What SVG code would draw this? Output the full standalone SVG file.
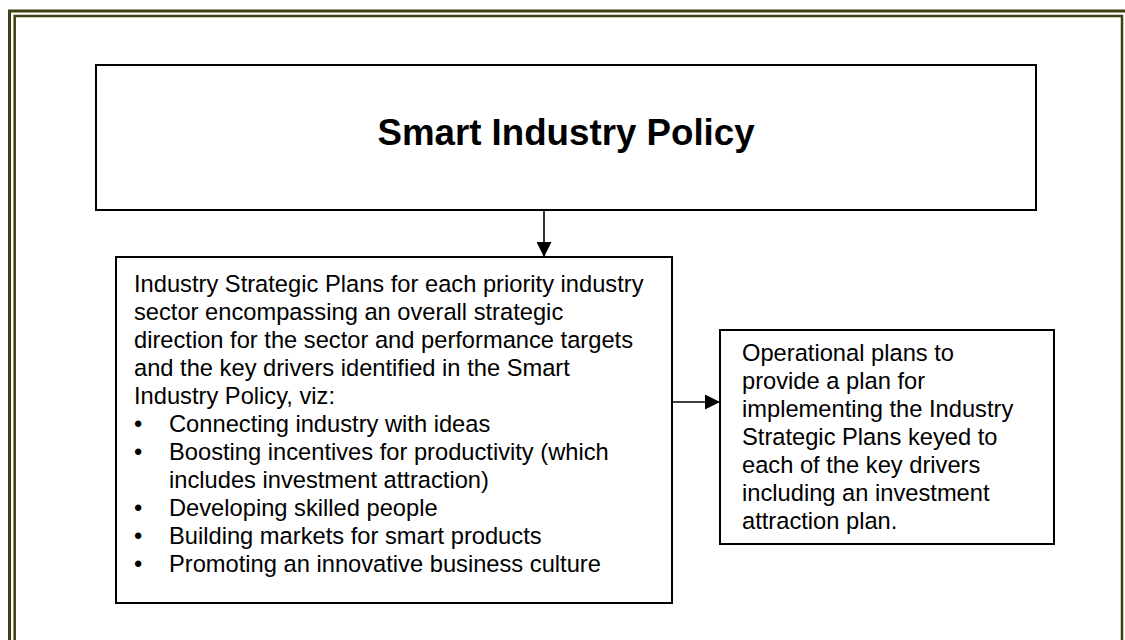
<svg xmlns="http://www.w3.org/2000/svg" width="1125" height="640" viewBox="0 0 1125 640">
  <defs>
    <style>
      .frame { fill: none; stroke: #404012; }
      .box { fill: #ffffff; stroke: #000000; stroke-width: 2; }
      .link { fill: none; stroke: #000000; stroke-width: 1.6; }
      .title { font-family: "Liberation Sans", Arial, sans-serif; font-weight: bold; font-size: 36.7px; fill: #000000; }
      .body { font-family: "Liberation Sans", Arial, sans-serif; font-size: 23.7px; fill: #000000; }
    </style>
    <marker id="arrowhead" viewBox="0 0 15 15" refX="15" refY="7.5" markerWidth="15" markerHeight="15" markerUnits="userSpaceOnUse" orient="auto">
      <path d="M0,0 L15,7.5 L0,15 Z" fill="#000000"/>
    </marker>
  </defs>

  <rect width="1125" height="640" fill="#ffffff"/>

  <!-- double page frame -->
  <g id="frame">
    <rect class="frame" x="9.5" y="11" width="1117.5" height="660" stroke-width="3"/>
    <rect class="frame" x="14.7" y="16" width="1107.3" height="650" stroke-width="2.5"/>
  </g>

  <!-- connectors -->
  <g id="connectors">
    <line class="link" x1="544" y1="210" x2="544" y2="257" marker-end="url(#arrowhead)"/>
    <line class="link" x1="672" y1="402" x2="720" y2="402" marker-end="url(#arrowhead)"/>
  </g>

  <g id="policy">
    <rect class="box" x="96" y="65" width="940" height="145"/>
    <text class="title" x="566" y="145" text-anchor="middle">Smart Industry Policy</text>
  </g>

  <g id="strategic-plans">
    <rect class="box" x="116" y="257" width="556" height="346"/>
    <text class="body">
      <tspan x="134" y="292">Industry Strategic Plans for each priority industry</tspan>
      <tspan x="134" y="320">sector encompassing an overall strategic</tspan>
      <tspan x="134" y="348">direction for the sector and performance targets</tspan>
      <tspan x="134" y="376">and the key drivers identified in the Smart</tspan>
      <tspan x="134" y="404">Industry Policy, viz:</tspan>
    </text>
    <text class="body">
      <tspan x="134" y="432">•</tspan><tspan x="169" y="432">Connecting industry with ideas</tspan>
      <tspan x="134" y="460">•</tspan><tspan x="169" y="460">Boosting incentives for productivity (which</tspan>
      <tspan x="169" y="488">includes investment attraction)</tspan>
      <tspan x="134" y="516">•</tspan><tspan x="169" y="516">Developing skilled people</tspan>
      <tspan x="134" y="544">•</tspan><tspan x="169" y="544">Building markets for smart products</tspan>
      <tspan x="134" y="572">•</tspan><tspan x="169" y="572">Promoting an innovative business culture</tspan>
    </text>
  </g>

  <g id="operational-plans">
    <rect class="box" x="720" y="330" width="334" height="214"/>
    <text class="body">
      <tspan x="742" y="361">Operational plans to</tspan>
      <tspan x="742" y="389">provide a plan for</tspan>
      <tspan x="742" y="417">implementing the Industry</tspan>
      <tspan x="742" y="445">Strategic Plans keyed to</tspan>
      <tspan x="742" y="473">each of the key drivers</tspan>
      <tspan x="742" y="501">including an investment</tspan>
      <tspan x="742" y="529">attraction plan.</tspan>
    </text>
  </g>
</svg>
